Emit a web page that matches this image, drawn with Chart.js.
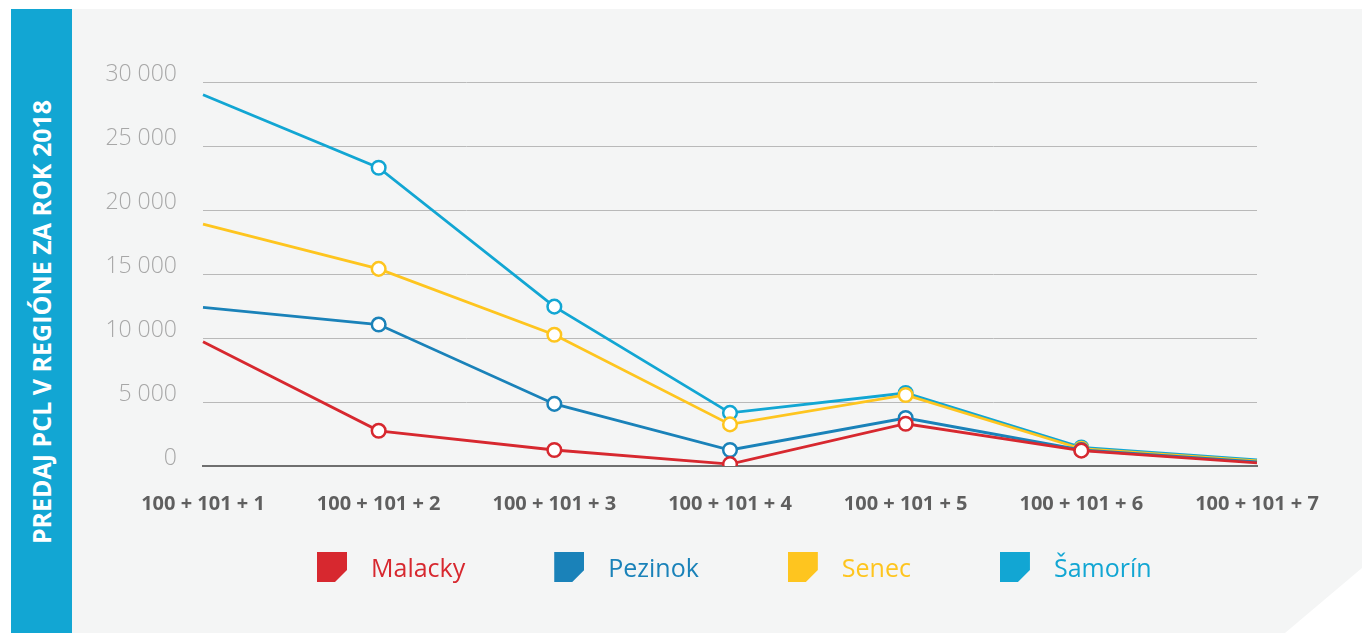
<!DOCTYPE html>
<html>
<head>
<meta charset="utf-8">
<script src="https://cdn.jsdelivr.net/npm/chart.js@4.4.0/dist/chart.umd.min.js"></script>
<style>
html, body { margin: 0; padding: 0; background: #fff; width: 1362px; height: 633px; overflow: hidden; font-family: "Open Sans", sans-serif; }
#panel { position: absolute; left: 72px; top: 9px; width: 1290px; height: 624px; background: #f4f5f5;
  clip-path: polygon(0 0, 100% 0, 100% 559px, 1213px 100%, 0 100%); }
#band { position: absolute; left: 11px; top: 9px; width: 61px; height: 624px; background: #12a6d3; }
#title { position: absolute; left: 41px; top: 322px; transform: translate(-50%, -50%) rotate(-90deg);
  white-space: nowrap; color: #fff; font-weight: 700; font-size: 25px; }
#wrap { position: absolute; left: 0; top: 0; width: 1362px; height: 633px; }
#legend { position: absolute; left: 317px; top: 552px; display: flex; }
.item { display: flex; align-items: center; margin-right: 89px; }
.sw { width: 30px; height: 30px; margin-right: 24px; clip-path: polygon(0 0, 100% 0, 100% 60%, 60% 100%, 0 100%); }
.tx { font-size: 25px; line-height: 30px; }
</style>
</head>
<body>
<div id="panel"></div>
<div id="band"></div>
<div id="title">PREDAJ PCL V REGIÓNE ZA ROK 2018</div>
<div id="wrap"><canvas id="chart"></canvas></div>
<div id="legend"></div>
<script>
// data
const categories = ['100 + 101 + 1', '100 + 101 + 2', '100 + 101 + 3', '100 + 101 + 4', '100 + 101 + 5', '100 + 101 + 6', '100 + 101 + 7'];
const malacky = [9700, 2750, 1250, 150, 3300, 1200, 250];
const pezinok = [12400, 11050, 4850, 1250, 3750, 1250, 320];
const senec = [18900, 15400, 10250, 3250, 5550, 1350, 400];
const samorin = [29000, 23300, 12450, 4150, 5700, 1450, 480];
const yTickLabels = ['0', '5 000', '10 000', '15 000', '20 000', '25 000', '30 000'];

const colors = {
    malacky: '#d7282f',
    pezinok: '#1a82b9',
    senec: '#fec51f',
    samorin: '#12a6d3'
};

function series(label, data, color) {
    return {
        label: label,
        data: data,
        borderColor: color,
        backgroundColor: color,
        borderWidth: 2.8,
        tension: 0,
        pointRadius: [0, 6.8, 6.8, 6.8, 6.8, 6.8, 0],
        pointBorderWidth: 2.5,
        pointBackgroundColor: '#ffffff',
        pointBorderColor: color
    };
}

let ctx = document.getElementById('chart');
ctx.width = 1362;
ctx.height = 633;

let chart = new Chart(ctx, {
    type: 'line',
    data: {
        labels: categories,
        datasets: [
            series('Malacky', malacky, colors.malacky),
            series('Pezinok', pezinok, colors.pezinok),
            series('Senec', senec, colors.senec),
            series('Šamorín', samorin, colors.samorin)
        ]
    },
    options: {
        responsive: false,
        animation: false,
        events: [],
        layout: {
            padding: { top: 82, right: 105, bottom: 0, left: 0 }
        },
        scales: {
            x: {
                offset: false,
                grid: { display: false },
                border: { display: true, color: '#6f6f6f', width: 2 },
                ticks: {
                    autoSkip: false,
                    maxRotation: 0,
                    padding: 18,
                    color: '#5f5f5f',
                    font: { family: 'Open Sans', size: 20, weight: 'bold' }
                },
                afterFit: function(scale) { scale.height = 167; }
            },
            y: {
                min: 0,
                max: 30000,
                border: { display: false },
                grid: {
                    drawTicks: false,
                    lineWidth: 1,
                    color: function(c) { return c.tick && c.tick.value === 0 ? 'rgba(0,0,0,0)' : '#b9b9b9'; }
                },
                ticks: {
                    stepSize: 5000,
                    padding: 26,
                    labelOffset: -8,
                    color: '#a7a7a7',
                    font: { family: 'Open Sans', size: 23, weight: '300' },
                    callback: function(v, i) { return yTickLabels[i]; }
                },
                afterFit: function(scale) { scale.width = 203; }
            }
        },
        plugins: {
            legend: { display: false },
            tooltip: { enabled: false }
        }
    }
});

// html legend built from the datasets
let legend = document.getElementById('legend');
chart.data.datasets.forEach(function(ds) {
    let item = document.createElement('div');
    item.className = 'item';
    let sw = document.createElement('span');
    sw.className = 'sw';
    sw.style.background = ds.borderColor;
    let tx = document.createElement('span');
    tx.className = 'tx';
    tx.style.color = ds.borderColor;
    tx.textContent = ds.label;
    item.append(sw, tx);
    legend.append(item);
});
</script>
</body>
</html>
